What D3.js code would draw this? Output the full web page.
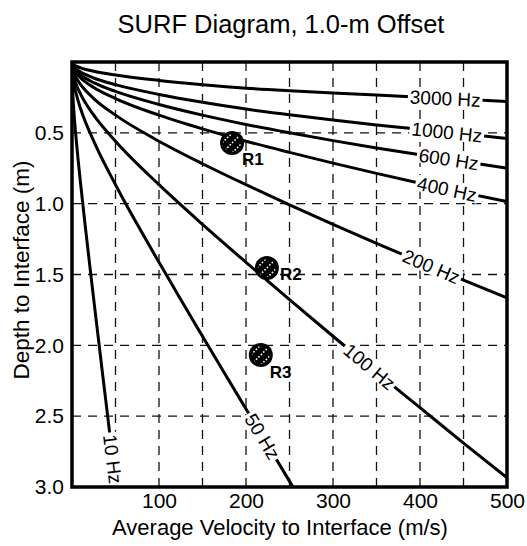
<!DOCTYPE html>
<html><head><meta charset="utf-8">
<script src="https://cdn.jsdelivr.net/npm/d3@7"></script>
<style>body{margin:0;background:#fff} text{font-family:"Liberation Sans",Arial,Helvetica,sans-serif}</style>
</head><body><svg id="c" width="527" height="546"></svg>
<script>
// ---- data ----
const title = "SURF Diagram, 1.0-m Offset";
const xLabel = "Average Velocity to Interface (m/s)";
const yLabel = "Depth to Interface (m)";
const xTickValues = [100, 200, 300, 400, 500];
const yTickValues = [0.5, 1.0, 1.5, 2.0, 2.5, 3.0];
const xGridValues = [50, 100, 150, 200, 250, 300, 350, 400, 450];
const yGridValues = [0.5, 1.0, 1.5, 2.0, 2.5];

const velHigh = [0, 2, 5, 10, 25, 50, 100, 150, 200, 250, 300, 350, 400, 450, 500];
const depth3000 = [0, 0.018, 0.029, 0.041, 0.065, 0.092, 0.130, 0.160, 0.185, 0.203, 0.218, 0.233, 0.248, 0.263, 0.278];
const depth1000 = [0, 0.032, 0.050, 0.071, 0.113, 0.160, 0.229, 0.284, 0.332, 0.372, 0.410, 0.445, 0.475, 0.507, 0.540];
const depth600  = [0, 0.041, 0.065, 0.092, 0.146, 0.208, 0.300, 0.375, 0.441, 0.500, 0.555, 0.607, 0.655, 0.702, 0.750];
const depth400  = [0, 0.050, 0.079, 0.113, 0.180, 0.258, 0.375, 0.472, 0.559, 0.638, 0.714, 0.786, 0.856, 0.922, 0.985];
const depth200  = [0, 0.071, 0.113, 0.160, 0.258, 0.375, 0.559, 0.718, 0.866, 1.008, 1.146, 1.280, 1.410, 1.540, 1.665];
const depth100  = [0, 0.100, 0.160, 0.229, 0.375, 0.559, 0.866, 1.146, 1.414, 1.677, 1.936, 2.190, 2.440, 2.690, 2.935];
const vel50     = [0, 2, 5, 10, 25, 50, 75, 100, 125, 150, 175, 200, 225, 254];
const depth50   = [0, 0.143, 0.229, 0.332, 0.559, 0.866, 1.146, 1.414, 1.677, 1.936, 2.194, 2.449, 2.704, 3.0];
const vel10     = [0, 1, 2, 5, 10, 15, 20, 25, 30, 35, 40, 45, 52];
const depth10   = [0, 0.229, 0.332, 0.559, 0.866, 1.146, 1.414, 1.677, 1.936, 2.194, 2.449, 2.704, 3.05];

const curveNames = ["10 Hz", "50 Hz", "100 Hz", "200 Hz", "400 Hz", "600 Hz", "1000 Hz", "3000 Hz"];
const curveVel = [vel10, vel50, velHigh, velHigh, velHigh, velHigh, velHigh, velHigh];
const curveDepth = [depth10, depth50, depth100, depth200, depth400, depth600, depth1000, depth3000];
const labelVel = [47, 219, 342, 413, 431, 433, 431, 429];

const receiverNames = ["R1", "R2", "R3"];
const receiverVel = [184, 224, 217];
const receiverDepth = [0.572, 1.454, 2.068];

// ---- layout ----
const FONT = '"Liberation Sans",Arial,Helvetica,sans-serif';
const svg = d3.select("#c");
const L = 72, R = 507, T = 62, B = 487;
const x = d3.scaleLinear().domain([0, 500]).range([L, R]);
const y = d3.scaleLinear().domain([0, 3]).range([T, B]);

svg.append("text").attr("x", 281).attr("y", 33).attr("text-anchor", "middle")
  .attr("font-size", 25.5).text(title);

svg.append("defs").append("clipPath").attr("id", "plot")
  .append("rect").attr("x", L).attr("y", T).attr("width", R - L).attr("height", B - T);

// grid
const grid = svg.append("g").attr("stroke", "#111").attr("stroke-width", 1.3)
  .attr("stroke-dasharray", "9,7");
grid.selectAll(".vx").data(xGridValues).join("line")
  .attr("x1", d => x(d)).attr("x2", d => x(d)).attr("y1", T).attr("y2", B);
grid.selectAll(".hy").data(yGridValues).join("line")
  .attr("y1", d => y(d)).attr("y2", d => y(d)).attr("x1", L).attr("x2", R);

// curves
const line = d3.line().x(d => x(d[0])).y(d => y(d[1])).curve(d3.curveMonotoneX);
const curvesG = svg.append("g").attr("clip-path", "url(#plot)");
curveNames.forEach((name, i) => {
  const pts = curveVel[i].map((v, j) => [v, curveDepth[i][j]]);
  curvesG.append("path").attr("d", line(pts)).attr("fill", "none")
    .attr("stroke", "#000").attr("stroke-width", 3);
});

// curve labels
function interp(vs, ds, v) {
  return d3.scaleLinear().domain(vs).range(ds).clamp(true)(v);
}
const labG = svg.append("g");
curveNames.forEach((name, i) => {
  const v = labelVel[i];
  const vs = curveVel[i], ds = curveDepth[i];
  const px = x(v), py = y(interp(vs, ds, v));
  const v1 = v - 4, v2 = v + 4;
  const ang = Math.atan2(y(interp(vs, ds, v2)) - y(interp(vs, ds, v1)), x(v2) - x(v1)) * 180 / Math.PI;
  const g = labG.append("g").attr("transform", `translate(${px},${py}) rotate(${ang})`);
  const t = g.append("text").attr("text-anchor", "middle").attr("dy", "0.36em")
    .attr("font-size", 19).text(name);
  const bb = t.node().getBBox();
  g.insert("rect", "text").attr("x", bb.x - 2).attr("y", -8).attr("width", bb.width + 4)
    .attr("height", 16).attr("fill", "#fff");
});

// receivers
const recG = svg.append("g");
receiverNames.forEach((name, i) => {
  const cx = x(receiverVel[i]), cy = y(receiverDepth[i]);
  const id = "rc" + i;
  svg.select("defs").append("clipPath").attr("id", id)
    .append("circle").attr("cx", cx).attr("cy", cy).attr("r", 9);
  recG.append("circle").attr("cx", cx).attr("cy", cy).attr("r", 12).attr("fill", "#000");
  const h = recG.append("g").attr("clip-path", `url(#${id})`).attr("stroke", "#fff")
    .attr("stroke-width", 1.6).attr("stroke-dasharray", "1.6,1.8");
  [-5, 0, 5].forEach(o => {
    h.append("line").attr("x1", cx - 12 + o).attr("y1", cy + 12 + o)
      .attr("x2", cx + 12 + o).attr("y2", cy - 12 + o);
  });
  recG.append("text").attr("x", cx + [10, 13, 9][i]).attr("y", cy + [22, 12, 23][i])
    .attr("font-size", 17).attr("font-weight", "bold").text(name);
});

// frame
svg.append("rect").attr("x", L).attr("y", T).attr("width", R - L).attr("height", B - T)
  .attr("fill", "none").attr("stroke", "#000").attr("stroke-width", 3.5);

// axes labels
const xAxis = d3.axisBottom(x).tickValues(xTickValues).tickSize(0).tickPadding(6).tickFormat(d3.format("d"));
const gx = svg.append("g").attr("transform", `translate(0,${B})`).call(xAxis);
gx.select(".domain").remove();
gx.selectAll("text").attr("font-size", 21).attr("font-family", FONT).attr("fill", "#000");

const yAxis = d3.axisLeft(y).tickValues(yTickValues).tickSize(0).tickPadding(8).tickFormat(d3.format(".1f"));
const gy = svg.append("g").attr("transform", `translate(${L},0)`).call(yAxis);
gy.select(".domain").remove();
gy.selectAll("text").attr("font-size", 21).attr("font-family", FONT).attr("fill", "#000");

svg.append("text").attr("x", 280).attr("y", 535).attr("text-anchor", "middle")
  .attr("font-size", 22).text(xLabel);
svg.append("text").attr("transform", "translate(29,270) rotate(-90)").attr("text-anchor", "middle")
  .attr("font-size", 22.5).text(yLabel);
</script></body></html>
